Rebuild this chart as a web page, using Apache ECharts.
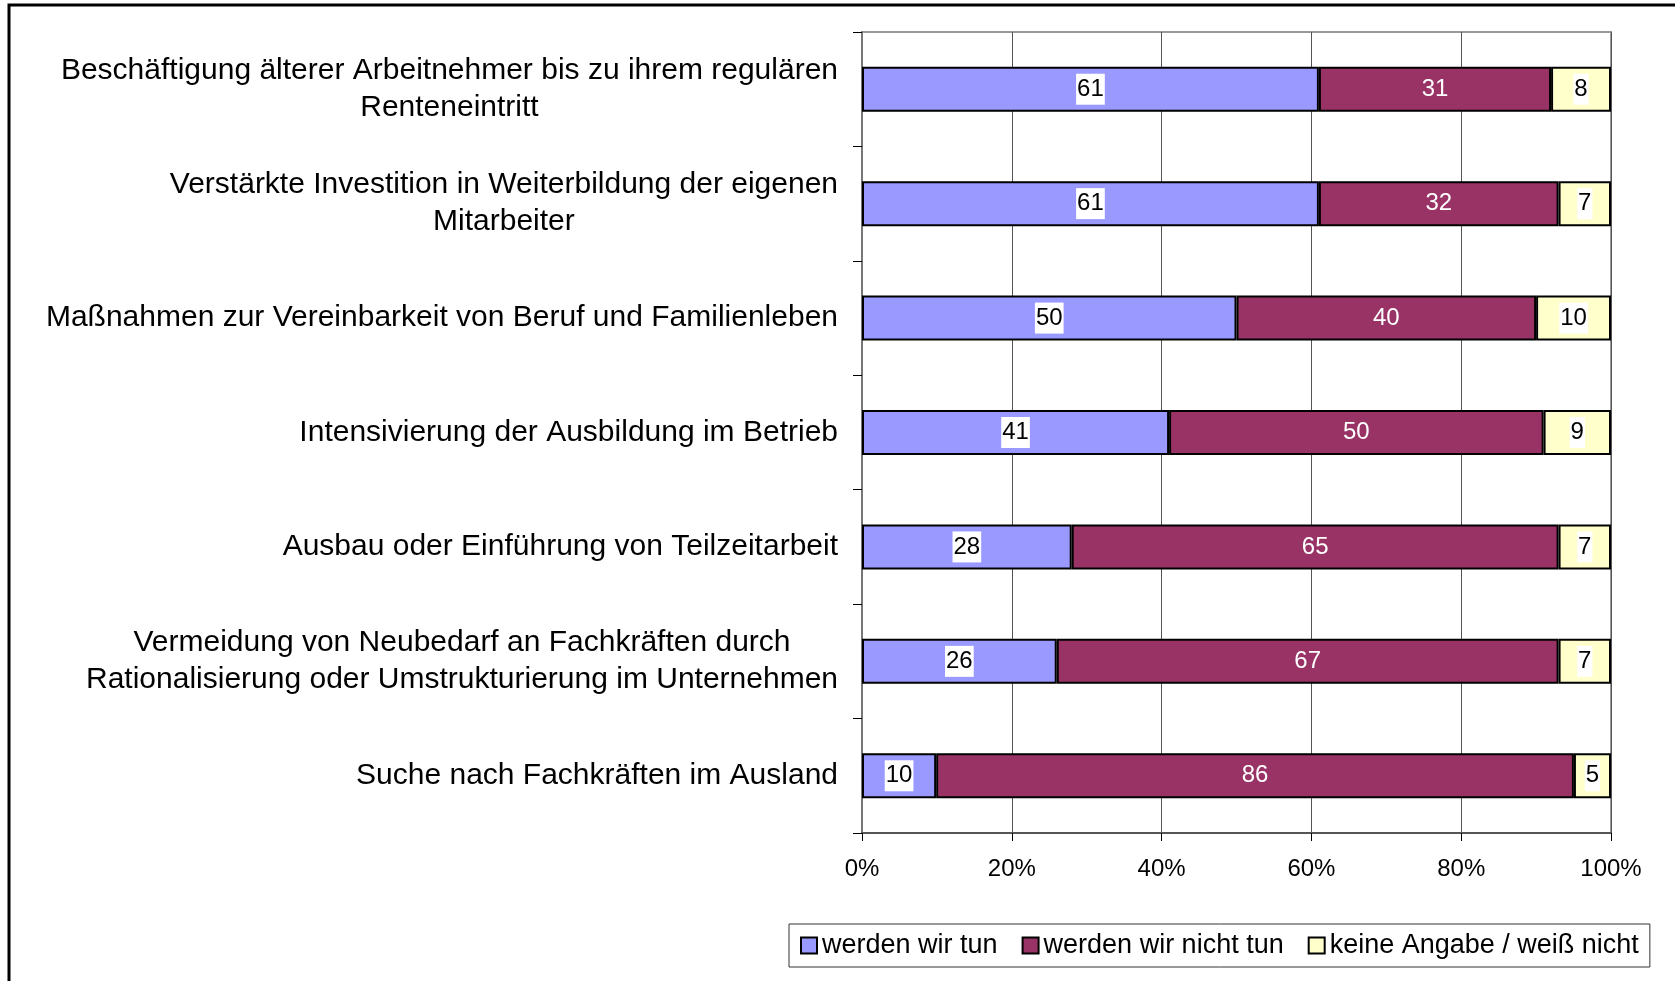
<!DOCTYPE html>
<html>
<head>
<meta charset="utf-8">
<script src="https://cdn.jsdelivr.net/npm/echarts@6/dist/echarts.min.js"></script>
<style>
  html, body { margin: 0; padding: 0; background: #fff; }
  #chart { width: 1675px; height: 981px; }
</style>
</head>
<body>
<div id="chart"></div>
<script>
// Kategorien (von oben nach unten)
var categories = [
  'Beschäftigung älterer Arbeitnehmer bis zu ihrem regulären\nRenteneintritt',
  'Verstärkte Investition in Weiterbildung der eigenen\nMitarbeiter',
  'Maßnahmen zur Vereinbarkeit von Beruf und Familienleben',
  'Intensivierung der Ausbildung im Betrieb',
  'Ausbau oder Einführung von Teilzeitarbeit',
  'Vermeidung von Neubedarf an Fachkräften durch\nRationalisierung oder Umstrukturierung im Unternehmen',
  'Suche nach Fachkräften im Ausland'
]
var seriesNames = ['werden wir tun', 'werden wir nicht tun', 'keine Angabe / weiß nicht']
var tun = [61, 61, 50, 41, 28, 26, 10]
var nichtTun = [31, 32, 40, 50, 65, 67, 86]
var keineAngabe = [8, 7, 10, 9, 7, 7, 5]
var xTicks = [0, 20, 40, 60, 80, 100]

var colors = ['#9999ff', '#993366', '#ffffcc']
var rawSeries = [tun, nichtTun, keineAngabe]

// 100%-gestapelt: Anteil je Zeile, Beschriftung zeigt Originalwert
var totals = categories.map(function (c, i) {
  return tun[i] + nichtTun[i] + keineAngabe[i]
})

function makeSeries(idx) {
  var raw = rawSeries[idx]
  var dark = idx === 1
  return {
    name: seriesNames[idx],
    type: 'bar',
    stack: 'total',
    barWidth: 45,
    data: raw.map(function (v, i) {
      return { value: v / totals[i] * 100, raw: v }
    }),
    itemStyle: { color: colors[idx], borderColor: '#000', borderWidth: 2 },
    label: {
      show: true,
      position: 'inside',
      fontFamily: 'Liberation Sans',
      fontSize: 24,
      color: dark ? '#fff' : '#000',
      backgroundColor: dark ? 'transparent' : '#fff',
      padding: dark ? 0 : [4, 1, 3, 1],
      formatter: function (p) { return p.data.raw }
    },
    emphasis: { disabled: true }
  }
}

var chart = echarts.init(document.getElementById('chart'))
chart.setOption({
  animation: false,
  textStyle: { fontFamily: 'Liberation Sans' },
  graphic: [{
    type: 'rect',
    shape: { x: 9, y: 5, width: 1700, height: 1000 },
    style: { fill: 'none', stroke: '#000', lineWidth: 3 },
    silent: true
  }],
  legend: {
    left: 789,
    top: 924,
    itemWidth: 16,
    itemHeight: 16,
    itemGap: 24,
    padding: [8, 11, 8, 11],
    borderColor: '#333',
    borderWidth: 1,
    icon: 'rect',
    textStyle: { fontSize: 27, color: '#000', fontFamily: 'Liberation Sans' },
    data: seriesNames
  },
  grid: {
    left: 862,
    right: 64,
    top: 32,
    bottom: 148,
    show: true,
    borderColor: '#999',
    borderWidth: 2
  },
  xAxis: {
    type: 'value',
    min: xTicks[0],
    max: xTicks[xTicks.length - 1],
    interval: 20,
    axisLine: { show: true, lineStyle: { color: '#555', width: 2 } },
    axisTick: { show: true, length: 8, lineStyle: { color: '#000' } },
    splitLine: { show: true, lineStyle: { color: '#555', width: 1 } },
    axisLabel: {
      fontSize: 24,
      color: '#000',
      margin: 24,
      formatter: '{value}%'
    }
  },
  yAxis: {
    type: 'category',
    inverse: true,
    data: categories,
    axisLine: { show: true, lineStyle: { color: '#777', width: 2 } },
    axisTick: { show: true, length: 9, interval: 0, lineStyle: { color: '#000' } },
    axisLabel: {
      interval: 0,
      margin: 24,
      align: 'right',
      formatter: function (val) {
        return val.split('\n').map(function (l) { return '{c|' + l + '}' }).join('\n')
      },
      rich: {
        c: { align: 'center', fontSize: 30, lineHeight: 37, color: '#000', fontFamily: 'Liberation Sans' }
      }
    }
  },
  series: [makeSeries(0), makeSeries(1), makeSeries(2)]
})
</script>
</body>
</html>
